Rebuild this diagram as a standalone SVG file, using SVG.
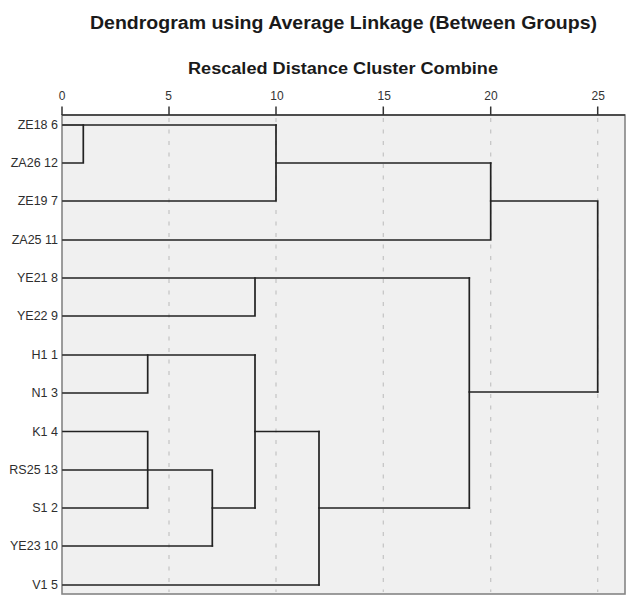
<svg xmlns="http://www.w3.org/2000/svg" width="638" height="607" viewBox="0 0 638 607">
<style>
.title{font-family:"Liberation Sans",Arial,sans-serif;font-weight:bold;fill:#1a1a1a;text-anchor:middle}
.tick{font-family:"Liberation Sans",Arial,sans-serif;font-size:12px;fill:#333;text-anchor:middle}
.lbl{font-family:"Liberation Sans",Arial,sans-serif;font-size:12.5px;fill:#2e2e2e;text-anchor:end}
.grid{stroke:#c4c4c4;stroke-width:1.2;stroke-dasharray:4 7.5;fill:none}
.ln{stroke:#222;stroke-width:1.7;fill:none;stroke-linecap:square}
.tk{stroke:#333;stroke-width:1.5}
</style>
<rect width="638" height="607" fill="#fff"/>
<text class="title" x="343.5" y="28.5" font-size="17.5" textLength="507" lengthAdjust="spacingAndGlyphs">Dendrogram using Average Linkage (Between Groups)</text>
<text class="title" x="343" y="74" font-size="16" textLength="310" lengthAdjust="spacingAndGlyphs">Rescaled Distance Cluster Combine</text>
<g id="axis">
<rect x="62" y="115" width="563" height="479" fill="#f0f0f0" stroke="#858585" stroke-width="1.6"/>
<g class="grid">
<path d="M169,118V592M276,118V592M383.3,118V592M490.7,118V592M597.7,118V592"/>
</g>
<line x1="62" y1="115" x2="625" y2="115" stroke="#333" stroke-width="1.6"/>
<g class="tk">
<line x1="62" y1="106.5" x2="62" y2="115"/>
<line x1="169" y1="106.5" x2="169" y2="115"/>
<line x1="276" y1="106.5" x2="276" y2="115"/>
<line x1="383.3" y1="106.5" x2="383.3" y2="115"/>
<line x1="490.7" y1="106.5" x2="490.7" y2="115"/>
<line x1="597.7" y1="106.5" x2="597.7" y2="115"/>
</g>
<text class="tick" x="62" y="99.5">0</text>
<text class="tick" x="168.5" y="99.5">5</text>
<text class="tick" x="277" y="99.5">10</text>
<text class="tick" x="384.3" y="99.5">15</text>
<text class="tick" x="491" y="99.5">20</text>
<text class="tick" x="598.3" y="99.5">25</text>
</g>
<g id="n-ZE18-6"><text class="lbl" x="58" y="129.3">ZE18 6</text></g>
<g id="n-ZA26-12"><text class="lbl" x="58" y="167.3">ZA26 12</text></g>
<g id="n-ZE19-7"><text class="lbl" x="58" y="205.3">ZE19 7</text></g>
<g id="n-ZA25-11"><text class="lbl" x="58" y="244.3">ZA25 11</text></g>
<g id="n-YE21-8"><text class="lbl" x="58" y="282.3">YE21 8</text></g>
<g id="n-YE22-9"><text class="lbl" x="58" y="320.3">YE22 9</text></g>
<g id="n-H1-1"><text class="lbl" x="58" y="359.3">H1 1</text></g>
<g id="n-N1-3"><text class="lbl" x="58" y="397.3">N1 3</text></g>
<g id="n-K1-4"><text class="lbl" x="58" y="435.8">K1 4</text></g>
<g id="n-RS25-13"><text class="lbl" x="58" y="474.3">RS25 13</text></g>
<g id="n-S1-2"><text class="lbl" x="58" y="512.3">S1 2</text></g>
<g id="n-YE23-10"><text class="lbl" x="58" y="550.3">YE23 10</text></g>
<g id="n-V1-5"><text class="lbl" x="58" y="589.3">V1 5</text></g>
<g id="connectors" class="ln">
<path d="M63,125H83.3"/>
<path d="M63,163H83.3V125H276"/>
<path d="M63,201H276V125"/>
<path d="M276,163H490.7"/>
<path d="M63,240H490.7V163"/>
<path d="M490.7,201H597.7V392"/>
<path d="M63,278H469.3"/>
<path d="M63,316H255V278"/>
<path d="M469.3,278V508"/>
<path d="M469.3,392H597.7"/>
<path d="M63,355H255"/>
<path d="M63,393H147.7V355"/>
<path d="M255,355V508"/>
<path d="M255,431.5H319"/>
<path d="M63,431.5H147.7V508"/>
<path d="M63,508H147.7"/>
<path d="M63,470H212.3V546"/>
<path d="M63,546H212.3"/>
<path d="M212.3,508H255"/>
<path d="M319,431.5V585"/>
<path d="M63,585H319"/>
<path d="M319,508H469.3"/>
</g>
</svg>
